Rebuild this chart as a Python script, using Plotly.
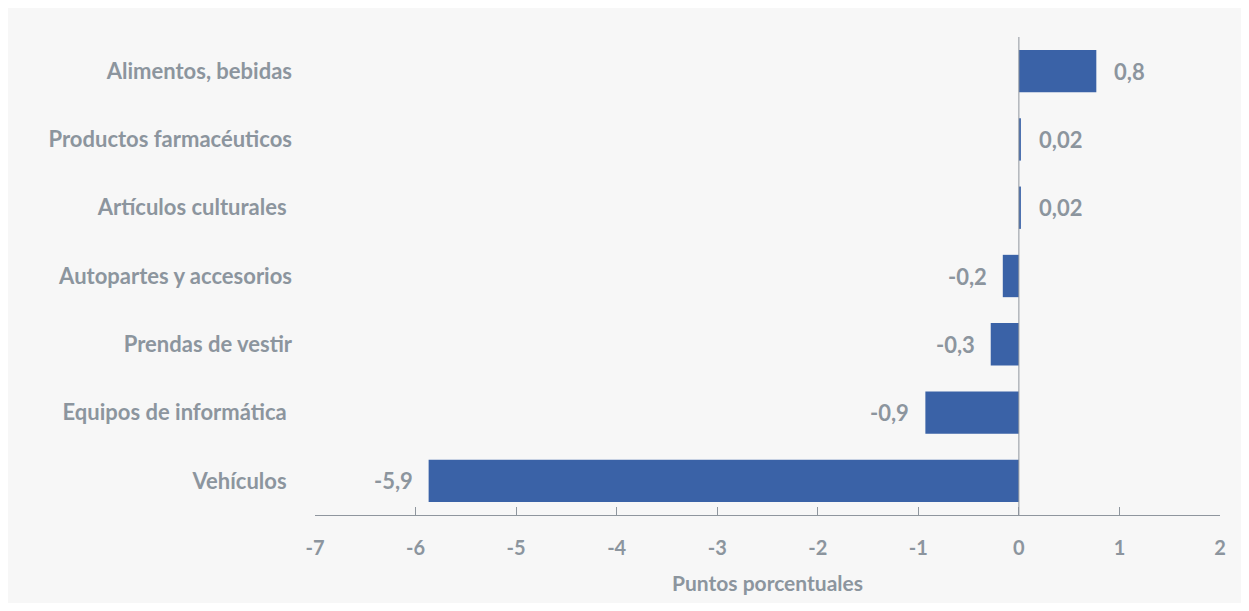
import plotly.graph_objects as go

categories = ["Vehículos", "Equipos de informática", "Prendas de vestir",
              "Autopartes y accesorios", "Artículos culturales",
              "Productos farmacéuticos", "Alimentos, bebidas"]
tick_labels = ["Vehículos\u00a0", "Equipos de informática\u00a0", "Prendas de vestir",
               "Autopartes y accesorios", "Artículos culturales\u00a0",
               "Productos farmacéuticos", "Alimentos, bebidas"]
values = [-5.87, -0.93, -0.28, -0.16, 0.02, 0.02, 0.77]
value_labels = ["-5,9", "-0,9", "-0,3", "-0,2", "0,02", "0,02", "0,8"]
x_ticks = [-7, -6, -5, -4, -3, -2, -1, 0, 1, 2]

GRAY = "#8c959e"
BLUE = "#3a62a7"
FONT = "Lato"

# page body has an 8px margin, so the figure sits at (8, 8)
W, H = 1233, 595
L, T = 307, 29
R = W - 1212
B = H - 507

fig = go.Figure()
fig.add_trace(go.Bar(
    x=values, y=categories, orientation="h",
    marker=dict(color=BLUE, line=dict(width=0)),
    width=0.62, hoverinfo="skip",
))

for c, v, t in zip(categories, values, value_labels):
    fig.add_annotation(
        x=v, y=c, text=t, showarrow=False,
        xanchor="left" if v > 0 else "right",
        xshift=16 if v > 0 else -14,
        font=dict(family=FONT, size=22, color=GRAY, weight="bold"),
    )

fig.add_shape(
    type="line", xref="x", yref="paper", x0=0, x1=0, y0=0, y1=1,
    line=dict(color="#8f969e", width=1),
)

fig.update_layout(
    width=W, height=H,
    margin=dict(l=L, r=R, t=T, b=B),
    paper_bgcolor="#f7f7f7", plot_bgcolor="#f7f7f7",
    showlegend=False,
    font=dict(family=FONT, color=GRAY),
    bargap=0.38,
)
fig.update_xaxes(
    range=[-7, 2], tickvals=x_ticks, ticktext=[str(v) for v in x_ticks],
    showgrid=False, zeroline=False,
    showline=True, linecolor="#8f969e", linewidth=1,
    ticks="inside", ticklen=8, tickcolor="#8f969e",
    tickfont=dict(family=FONT, size=20, color=GRAY, weight="bold"),
    ticklabelstandoff=15,
    title=dict(text="Puntos porcentuales", standoff=18,
               font=dict(family=FONT, size=21, color=GRAY, weight="bold")),
    fixedrange=True,
)
fig.update_yaxes(
    categoryorder="array", categoryarray=categories,
    tickvals=categories, ticktext=tick_labels,
    range=[-0.5, 6.5],
    showgrid=False, zeroline=False, showline=False, ticks="",
    tickfont=dict(family=FONT, size=22, color=GRAY, weight="bold"),
    ticklabelstandoff=22,
    fixedrange=True,
)

fig.write_html("out.html")
